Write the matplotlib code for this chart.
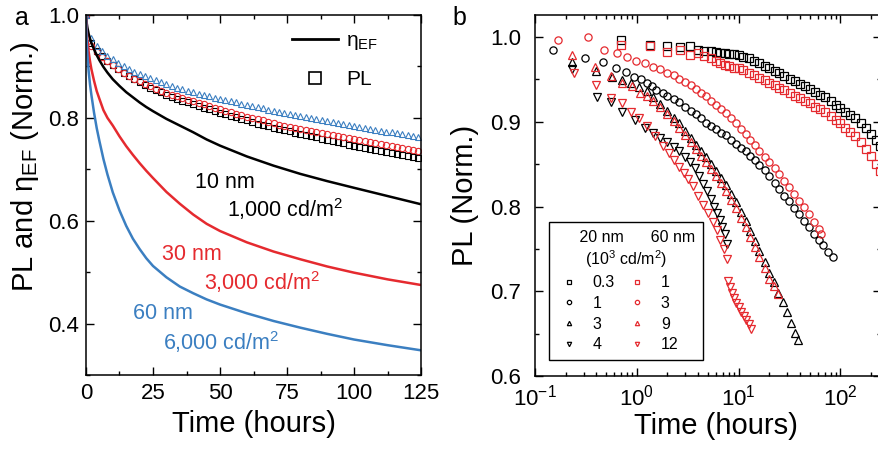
import matplotlib
matplotlib.use('Agg')
import matplotlib.pyplot as plt
from matplotlib.lines import Line2D
from matplotlib.ticker import MultipleLocator, FormatStrFormatter

plt.rcParams['font.family'] = ['Liberation Sans', 'DejaVu Sans']
plt.rcParams['mathtext.fontset'] = 'custom'
plt.rcParams['mathtext.rm'] = 'Liberation Sans'
plt.rcParams['mathtext.it'] = 'Liberation Sans:italic'
plt.rcParams['mathtext.bf'] = 'Liberation Sans:bold'

RED = '#e52a2f'
BLUE = '#3b7fc1'

# ---- panel a : eta_EF (lines) and PL (markers) vs time ----
t_ef = [0, 0.25, 0.5, 1, 1.5, 2, 3, 4, 5, 6.5, 8, 10, 12.5, 15, 17.5, 20, 22.5, 25, 30,
        35, 40, 45, 50, 60, 70, 80, 90, 100, 112.5, 125]
ef_10nm = [1.0, 0.985, 0.976, 0.963, 0.954, 0.946, 0.933, 0.922, 0.912, 0.899, 0.888,
           0.875, 0.862, 0.85, 0.84, 0.83, 0.821, 0.813, 0.798, 0.785, 0.772, 0.758,
           0.746, 0.725, 0.707, 0.691, 0.677, 0.664, 0.648, 0.632]
ef_30nm = [1.0, 0.97, 0.952, 0.928, 0.91, 0.895, 0.872, 0.852, 0.837, 0.815, 0.8, 0.785,
           0.764, 0.745, 0.728, 0.712, 0.697, 0.683, 0.656, 0.633, 0.612, 0.594, 0.58,
           0.558, 0.54, 0.525, 0.511, 0.499, 0.486, 0.475]
ef_60nm = [1.0, 0.95, 0.925, 0.89, 0.865, 0.845, 0.81, 0.78, 0.755, 0.72, 0.69, 0.655,
           0.62, 0.59, 0.565, 0.545, 0.527, 0.512, 0.49, 0.472, 0.459, 0.447, 0.437,
           0.42, 0.405, 0.392, 0.38, 0.369, 0.358, 0.348]

t_pl = [0, 2, 4, 6, 8, 10, 12, 14, 16, 18, 20, 22, 24, 26, 28, 30, 32, 34, 36, 38, 40,
        42, 44, 46, 48, 50, 52, 54, 56, 58, 60, 62, 64, 66, 68, 70, 72, 74, 76, 78, 80,
        82, 84, 86, 88, 90, 92, 94, 96, 98, 100, 102, 104, 106, 108, 110, 112, 114, 116,
        118, 120, 122, 124]
pl_10nm = [1.0, 0.945, 0.93, 0.92, 0.911, 0.903, 0.895, 0.888, 0.881, 0.875, 0.869, 0.864,
           0.859, 0.854, 0.85, 0.845, 0.841, 0.837, 0.833, 0.83, 0.826, 0.823, 0.82, 0.817,
           0.813, 0.81, 0.807, 0.804, 0.801, 0.798, 0.795, 0.792, 0.789, 0.787, 0.784,
           0.781, 0.779, 0.776, 0.774, 0.771, 0.769, 0.766, 0.764, 0.762, 0.759, 0.757,
           0.755, 0.753, 0.751, 0.748, 0.746, 0.744, 0.742, 0.74, 0.738, 0.736, 0.734,
           0.732, 0.73, 0.728, 0.726, 0.724, 0.722]
pl_30nm = [1.0, 0.94, 0.928, 0.919, 0.91, 0.902, 0.895, 0.888, 0.882, 0.876, 0.871, 0.866,
           0.861, 0.857, 0.853, 0.849, 0.845, 0.842, 0.838, 0.835, 0.832, 0.829, 0.826,
           0.823, 0.82, 0.817, 0.814, 0.811, 0.808, 0.805, 0.802, 0.8, 0.797, 0.795, 0.792,
           0.79, 0.787, 0.785, 0.783, 0.781, 0.779, 0.777, 0.775, 0.773, 0.771, 0.769,
           0.767, 0.765, 0.763, 0.761, 0.759, 0.757, 0.755, 0.753, 0.751, 0.749, 0.747,
           0.745, 0.743, 0.741, 0.739, 0.737, 0.735]
pl_60nm = [1.0, 0.955, 0.94, 0.93, 0.921, 0.914, 0.907, 0.901, 0.895, 0.89, 0.885, 0.881,
           0.877, 0.873, 0.869, 0.866, 0.862, 0.859, 0.856, 0.853, 0.85, 0.847, 0.845,
           0.842, 0.839, 0.837, 0.834, 0.832, 0.83, 0.827, 0.825, 0.823, 0.821, 0.819,
           0.816, 0.814, 0.812, 0.81, 0.808, 0.806, 0.804, 0.802, 0.8, 0.798, 0.796, 0.794,
           0.792, 0.79, 0.789, 0.787, 0.785, 0.783, 0.781, 0.779, 0.777, 0.775, 0.773,
           0.772, 0.77, 0.768, 0.766, 0.764, 0.762]

# ---- panel b : PL vs time (log), 20 nm black / 60 nm red ----
t_sq = [0.7, 1.35, 2.0, 2.65, 3.3, 4.0, 4.6, 5.3, 6.0, 6.6, 7.3, 8.0, 9.0, 10, 11, 12.5,
        14, 16, 18, 20, 22.5, 25, 28, 32, 36, 40, 45, 50, 56, 63, 70, 80, 90, 100, 112,
        125, 140, 160, 180, 200, 225, 245]
b_sq_03 = [0.997, 0.991, 0.99, 0.988, 0.989, 0.985, 0.984, 0.983, 0.982, 0.981, 0.981,
           0.98, 0.98, 0.979, 0.977, 0.975, 0.972, 0.969, 0.966, 0.963, 0.96, 0.957, 0.954,
           0.951, 0.948, 0.945, 0.942, 0.939, 0.935, 0.932, 0.929, 0.924, 0.92, 0.916,
           0.912, 0.908, 0.904, 0.899, 0.893, 0.886, 0.878, 0.872]
r_sq_1 = [0.991, 0.989, 0.982, 0.985, 0.979, 0.981, 0.978, 0.975, 0.972, 0.969, 0.967,
          0.966, 0.964, 0.963, 0.961, 0.958, 0.955, 0.952, 0.949, 0.946, 0.943, 0.94,
          0.937, 0.934, 0.931, 0.928, 0.925, 0.922, 0.918, 0.915, 0.912, 0.907, 0.902,
          0.898, 0.893, 0.888, 0.883, 0.876, 0.868, 0.86, 0.85, 0.842]

t_ci_b = [0.15, 0.31, 0.47, 0.62, 0.78, 0.94, 1.1, 1.25, 1.4, 1.56, 1.8, 2.0, 2.3, 2.6,
          3.0, 3.4, 3.8, 4.3, 4.8, 5.4, 6.0, 6.7, 7.5, 8.4, 9.4, 10.5, 11.7, 13, 14.5,
          16, 18, 20, 22.5, 25, 28, 31, 35, 39, 44, 49, 55, 61, 68, 76, 84.5]
b_ci_1 = [0.985, 0.975, 0.97, 0.963, 0.959, 0.953, 0.95, 0.946, 0.942, 0.938, 0.934,
          0.931, 0.927, 0.923, 0.918, 0.913, 0.909, 0.904, 0.899, 0.895, 0.891, 0.887,
          0.884, 0.879, 0.874, 0.869, 0.865, 0.86, 0.855, 0.849, 0.843, 0.836, 0.828,
          0.821, 0.813, 0.806, 0.798, 0.791, 0.783, 0.776, 0.768, 0.761, 0.754, 0.746,
          0.74]
t_ci_r = [0.17, 0.33, 0.48, 0.64, 0.8, 0.99, 1.2, 1.45, 1.7, 2.0, 2.3, 2.6, 3.0, 3.4,
          3.8, 4.3, 4.8, 5.4, 6.0, 6.7, 7.5, 8.4, 9.4, 10.5, 11.7, 13, 14.5, 16, 18, 20,
          22.5, 25, 28, 31, 35, 39, 44, 49, 55, 61, 65]
r_ci_3 = [0.997, 1.0, 0.985, 0.981, 0.977, 0.972, 0.969, 0.965, 0.962, 0.958, 0.955,
          0.951, 0.947, 0.943, 0.939, 0.934, 0.93, 0.925, 0.92, 0.915, 0.91, 0.904, 0.898,
          0.892, 0.886, 0.879, 0.873, 0.866, 0.859, 0.852, 0.845, 0.838, 0.83, 0.823,
          0.815, 0.807, 0.799, 0.791, 0.782, 0.773, 0.767]

t_up_b = [0.23, 0.4, 0.57, 0.72, 0.87, 1.05, 1.25, 1.45, 1.7, 2.0, 2.3, 2.6, 3.0, 3.4,
          3.8, 4.3, 4.8, 5.4, 6.0, 6.7, 7.5, 8.4, 9.4, 10.5, 11.7, 13, 14.5, 16, 18, 20,
          22, 24.5, 27, 30, 33, 36, 38.5]
b_up_3 = [0.971, 0.96, 0.953, 0.949, 0.946, 0.941, 0.936, 0.929, 0.921, 0.913, 0.905,
          0.898, 0.889, 0.881, 0.873, 0.865, 0.858, 0.85, 0.842, 0.834, 0.825, 0.815,
          0.805, 0.794, 0.783, 0.771, 0.759, 0.748, 0.735, 0.722, 0.711, 0.698, 0.687,
          0.675, 0.663, 0.651, 0.642]
t_up_r = [0.23, 0.39, 0.56, 0.72, 0.89, 1.07, 1.25, 1.45, 1.7, 2.0, 2.3, 2.6, 3.0, 3.4,
          3.8, 4.3, 4.8, 5.4, 6.0, 6.7, 7.5, 8.4, 9.4, 10.5, 11.7, 13, 14.5, 16, 18, 20,
          22, 24.5]
r_up_9 = [0.979, 0.965, 0.954, 0.946, 0.942, 0.934, 0.93, 0.924, 0.917, 0.909, 0.901,
          0.893, 0.884, 0.876, 0.868, 0.86, 0.852, 0.844, 0.836, 0.828, 0.818, 0.808,
          0.798, 0.787, 0.776, 0.764, 0.752, 0.74, 0.727, 0.715, 0.706, 0.697]

t_dn_b = [0.23, 0.41, 0.56, 0.72, 0.95, 1.2, 1.45, 1.7, 2.0, 2.3, 2.6, 3.0, 3.3, 3.7,
          4.1, 4.5, 4.9, 5.3, 5.7, 6.1, 6.5, 6.9, 7.3, 7.7]
b_dn_4 = [0.962, 0.929, 0.923, 0.912, 0.902, 0.893, 0.887, 0.881, 0.876, 0.87, 0.865,
          0.858, 0.853, 0.845, 0.836, 0.827, 0.818, 0.809, 0.8, 0.792, 0.784, 0.776,
          0.768, 0.756]
t_dn_r = [0.24, 0.4, 0.56, 0.72, 0.87, 1.05, 1.25, 1.5, 1.8, 2.05, 2.3, 2.6, 2.9, 3.2,
          3.6, 4.0, 4.5, 5.0, 5.6, 6.1, 6.6, 7.1, 7.6, 7.8, 8.2, 8.6, 9.0, 9.5, 10.0, 10.6,
          11.2, 11.8, 12.5, 13.3]
r_dn_12 = [0.957, 0.943, 0.928, 0.922, 0.912, 0.905, 0.895, 0.883, 0.871, 0.863, 0.855,
           0.847, 0.84, 0.832, 0.824, 0.813, 0.802, 0.792, 0.782, 0.772, 0.761, 0.75,
           0.738, 0.712, 0.705, 0.698, 0.692, 0.686, 0.681, 0.676, 0.671, 0.666, 0.661,
           0.655]

fig = plt.figure(figsize=(8.79, 4.5), dpi=100)
ax1 = fig.add_axes([86 / 879, 1 - 375 / 450, 335 / 879, 360 / 450])
ax2 = fig.add_axes([535 / 879, 1 - 376 / 450, 346 / 879, 361 / 450])

for ax in (ax1, ax2):
    ax.tick_params(which='both', direction='in', top=True, right=True, width=1.0,
                   labelsize=16)
    ax.tick_params(which='major', length=5.5)
    ax.tick_params(which='minor', length=3)
    for s in ax.spines.values():
        s.set_linewidth(1.1)

# panel a
mk = dict(ls='none', mfc='none', ms=4.5, mew=0.8)
ax1.plot(t_pl, pl_10nm, marker='s', mec='k', **mk)
ax1.plot(t_pl, pl_30nm, marker='o', mec=RED, **mk)
ax1.plot(t_pl, pl_60nm, marker='^', mec=BLUE, **mk)
ax1.plot(t_ef, ef_10nm, color='k', lw=1.8)
ax1.plot(t_ef, ef_30nm, color=RED, lw=1.8)
ax1.plot(t_ef, ef_60nm, color=BLUE, lw=1.8)

ax1.set_xlim(0, 125)
ax1.set_ylim(0.3, 1.0)
ax1.xaxis.set_major_locator(MultipleLocator(25))
ax1.xaxis.set_minor_locator(MultipleLocator(12.5))
ax1.set_yticks([0.4, 0.6, 0.8, 1.0])
ax1.yaxis.set_minor_locator(MultipleLocator(0.1))
ax1.yaxis.set_major_formatter(FormatStrFormatter('%.1f'))
ax1.tick_params(axis='y', pad=5)
ax1.tick_params(axis='x', pad=6)
ax1.set_xlabel('Time (hours)', fontsize=21, labelpad=4)
ax1.set_ylabel('PL and η$_{\\mathrm{EF}}$ (Norm.)', fontsize=21)
ax1.yaxis.set_label_coords(-0.135, 0.58)

handles = [Line2D([], [], color='k', lw=2),
           Line2D([], [], marker='s', ls='none', mfc='none', mec='k', ms=8, mew=1.2)]
ax1.legend(handles, ['η$_{\\mathrm{EF}}$', 'PL'], loc='upper left',
           bbox_to_anchor=(0.615, 0.955), frameon=False, fontsize=15,
           handlelength=2.2, handletextpad=0.4, labelspacing=0.85,
           borderpad=0, borderaxespad=0)

ax1.text(40.7, 0.663, '10 nm', fontsize=15.5, color='k', va='baseline')
ax1.text(52.6, 0.608, '1,000 cd/m$^2$', fontsize=15.5, color='k', va='baseline')
ax1.text(28.2, 0.523, '30 nm', fontsize=15.5, color=RED, va='baseline')
ax1.text(44.0, 0.465, '3,000 cd/m$^2$', fontsize=15.5, color=RED, va='baseline')
ax1.text(17.6, 0.408, '60 nm', fontsize=15.5, color=BLUE, va='baseline')
ax1.text(28.8, 0.349, '6,000 cd/m$^2$', fontsize=15.5, color=BLUE, va='baseline')

# panel b
mb = dict(ls='none', mfc='none', ms=5.2, mew=0.9)
ax2.plot(t_sq, b_sq_03, marker='s', mec='k', label='0.3', **mb)
ax2.plot(t_ci_b, b_ci_1, marker='o', mec='k', label='1', **mb)
ax2.plot(t_up_b, b_up_3, marker='^', mec='k', label='3', **mb)
ax2.plot(t_dn_b, b_dn_4, marker='v', mec='k', label='4', **mb)
ax2.plot(t_sq, r_sq_1, marker='s', mec=RED, label='1', **mb)
ax2.plot(t_ci_r, r_ci_3, marker='o', mec=RED, label='3', **mb)
ax2.plot(t_up_r, r_up_9, marker='^', mec=RED, label='9', **mb)
ax2.plot(t_dn_r, r_dn_12, marker='v', mec=RED, label='12', **mb)

ax2.set_xscale('log')
ax2.set_xlim(0.1, 250)
ax2.set_ylim(0.6, 1.026)
ax2.yaxis.set_major_locator(MultipleLocator(0.1))
ax2.yaxis.set_minor_locator(MultipleLocator(0.05))
ax2.yaxis.set_major_formatter(FormatStrFormatter('%.1f'))
ax2.tick_params(axis='y', pad=10)
ax2.tick_params(axis='x', pad=6)
ax2.set_xlabel('Time (hours)', fontsize=21, labelpad=0)
ax2.xaxis.set_label_coords(0.523, -0.1)
ax2.xaxis.label.set_va('top')
ax2.set_ylabel('PL (Norm.)', fontsize=21, labelpad=8)

leg = ax2.legend(ncol=2, loc='lower left', bbox_to_anchor=(0.04, 0.044),
                 borderaxespad=0, fontsize=11.5, markerscale=0.6,
                 title='     20 nm      60 nm\n(10$^3$ cd/m$^2$)', title_fontsize=11.5,
                 alignment='left', fancybox=False, edgecolor='k', framealpha=1,
                 handlelength=1.5, handletextpad=0.75, columnspacing=0.62,
                 labelspacing=0.35, borderpad=0.5)
leg.get_frame().set_linewidth(1.0)
leg.get_title().set_multialignment('center')

fig.text(15 / 879, 1 - 25 / 450, 'a', fontsize=18, va='baseline')
fig.text(452 / 879, 1 - 25 / 450, 'b', fontsize=18, va='baseline')

fig.savefig('out.png', dpi=100)
